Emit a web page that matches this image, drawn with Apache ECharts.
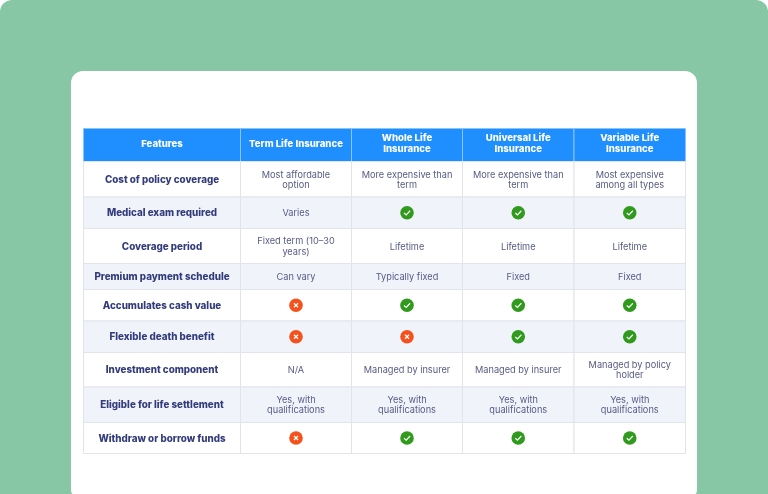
<!DOCTYPE html>
<html>
<head>
<meta charset="utf-8">
<style>html,body{margin:0;padding:0;background:#fff}#chart{width:768px;height:494px}</style>
<script src="https://cdn.jsdelivr.net/npm/echarts@6/dist/echarts.min.js"></script>
</head>
<body>
<div id="chart"></div>
<script>
// table content
const headers = ['Features', 'Term Life Insurance', 'Whole Life\nInsurance', 'Universal Life\nInsurance', 'Variable Life\nInsurance'];
const features = ['Cost of policy coverage', 'Medical exam required', 'Coverage period', 'Premium payment schedule', 'Accumulates cash value', 'Flexible death benefit', 'Investment component', 'Eligible for life settlement', 'Withdraw or borrow funds'];
const termLife = ['Most affordable\noption', 'Varies', 'Fixed term (10–30\nyears)', 'Can vary', 'no', 'no', 'N/A', 'Yes, with\nqualifications', 'no'];
const wholeLife = ['More expensive than\nterm', 'yes', 'Lifetime', 'Typically fixed', 'yes', 'no', 'Managed by insurer', 'Yes, with\nqualifications', 'yes'];
const universalLife = ['More expensive than\nterm', 'yes', 'Lifetime', 'Fixed', 'yes', 'yes', 'Managed by insurer', 'Yes, with\nqualifications', 'yes'];
const variableLife = ['Most expensive\namong all types', 'yes', 'Lifetime', 'Fixed', 'yes', 'yes', 'Managed by policy\nholder', 'Yes, with\nqualifications', 'yes'];

// table layout, in axis units (1 unit = 1px here)
const columnEdges = [0, 157, 268, 379, 490.5, 602];
const rowEdges = [0, 33, 68.5, 100, 135, 161, 192.5, 224, 258.5, 294, 325];

const columns = [features, termLife, wholeLife, universalLife, variableLife];
const cells = [];
headers.forEach((h, c) => cells.push([c, 0, h]));
columns.forEach((col, c) => col.forEach((v, r) => cells.push([c, r + 1, v])));

const BLUE = '#1f8fff', BORDER = '#e2e4ec', STRIPE = '#f1f3fb';
const FONT = 'Inter';

function renderCell(params, api) {
  const c = api.value(0), r = api.value(1), v = cells[params.dataIndex][2];
  const tl = api.coord([columnEdges[c], rowEdges[r]]);
  const br = api.coord([columnEdges[c + 1], rowEdges[r + 1]]);
  const cx = (tl[0] + br[0]) / 2, cy = (tl[1] + br[1]) / 2;
  const isHead = r === 0;
  const fill = isHead ? BLUE : (r % 2 === 0 ? STRIPE : '#fff');
  const children = [{
    type: 'rect',
    shape: { x: tl[0], y: tl[1], width: br[0] - tl[0], height: br[1] - tl[1] },
    style: { fill: fill, stroke: isHead ? '#8ac3ff' : BORDER, lineWidth: 1 }
  }];
  if (v === 'yes' || v === 'no') {
    const yes = v === 'yes';
    children.push({ type: 'circle', shape: { cx: cx, cy: cy, r: 6.8 }, style: { fill: yes ? '#2f9a1c' : '#f4511c' } });
    children.push({
      type: 'polyline',
      shape: { points: yes
        ? [[cx - 3, cy + 0.2], [cx - 0.8, cy + 2.2], [cx + 3.1, cy - 2]]
        : [[cx - 2, cy - 2], [cx + 2, cy + 2]] },
      style: { stroke: '#fff', lineWidth: 1.2, fill: null }
    });
    if (!yes) {
      children.push({
        type: 'polyline',
        shape: { points: [[cx + 2, cy - 2], [cx - 2, cy + 2]] },
        style: { stroke: '#fff', lineWidth: 1.2, fill: null }
      });
    }
  } else {
    const bold = isHead || c === 0;
    children.push({
      type: 'text',
      style: {
        x: cx, y: cy + (isHead ? -1 : 0.8), text: v,
        align: 'center', verticalAlign: 'middle',
        font: (bold ? '800 ' : '400 ') + (isHead ? '9.6px ' : bold ? '9.8px ' : '9.2px ') + FONT,
        lineHeight: isHead ? 11 : 10.3,
        fill: isHead ? '#fff' : (c === 0 ? '#323c7c' : '#565b84')
      }
    });
  }
  return { type: 'group', children: children };
}

const chart = echarts.init(document.getElementById('chart'), null, { renderer: 'canvas' });
chart.setOption({
  animation: false,
  graphic: [
    { type: 'rect', z: -10, shape: { x: 0, y: 0, width: 768, height: 494, r: [12, 12, 0, 0] }, style: { fill: '#88c7a6' } },
    { type: 'rect', z: -9, shape: { x: 71, y: 71, width: 626, height: 430, r: 12 }, style: { fill: '#fff' } }
  ],
  grid: { left: 83.5, top: 128.5, width: 602, height: 325, show: false },
  xAxis: { type: 'value', min: 0, max: 602, show: false },
  yAxis: { type: 'value', min: 0, max: 325, inverse: true, show: false },
  series: [{
    type: 'custom',
    coordinateSystem: 'cartesian2d',
    clip: false,
    silent: true,
    data: cells.map(d => [d[0], d[1]]),
    encode: { x: 0, y: 1 },
    renderItem: renderCell
  }]
});
</script>
</body>
</html>
